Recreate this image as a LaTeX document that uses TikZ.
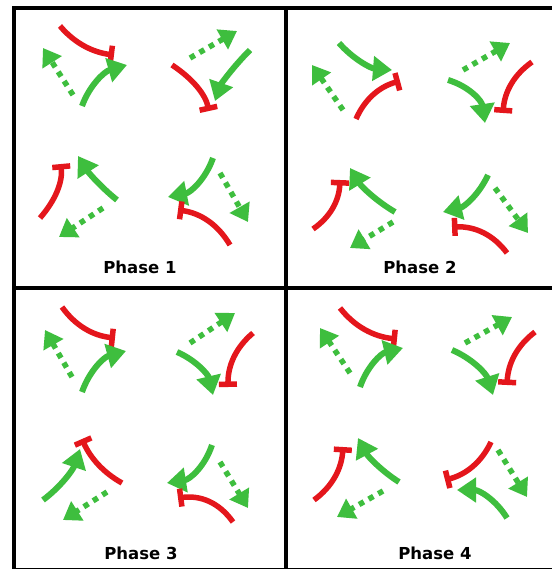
\documentclass[tikz,border=0pt]{standalone}
\usepackage{fontspec}
\newfontfamily\labelfont{DejaVu Sans}
\usetikzlibrary{arrows.meta,calc}
\definecolor{gr}{RGB}{62,190,62}
\definecolor{rd}{RGB}{228,22,28}
% #2 = start, #3 = point on the curve half way, #4 = end (quadratic arc)
\newcommand{\mycurve}[4]{\draw[#1] (#2) .. controls ($1.33333*(#3)-0.33333*(#4)$) and ($1.33333*(#3)-0.33333*(#2)$) .. (#4);}
\tikzset{
  frame/.style={line width=4pt, black},
  gsolid/.style={color=gr, line width=6pt, -{Triangle[length=19pt,width=24pt]}},
  gdot/.style={color=gr, line width=5.5pt, dash pattern=on 5.5pt off 5.5pt, -{Triangle[length=17pt,width=22pt]}},
  rinh/.style={color=rd, line width=5.5pt, -{Bar[width=18pt]}},
  lbl/.style={font=\labelfont\bfseries\fontsize{16.5}{16.5}\selectfont, inner sep=0pt}
}
\begin{document}
\begin{tikzpicture}[x=1pt,y=-1pt]
\fill[white] (0,0) rectangle (551,569);
\useasboundingbox (0,0) rectangle (551,569);
% ---------- Phase 1 ----------
\mycurve{rinh}{60,26}{84,45.7}{114,55}
\mycurve{gsolid}{82,106}{99,80}{127,65}
\draw[gdot] (73,95) -- (43,48);
\draw[gdot] (190,58) -- (237,31);
\mycurve{gsolid}{250,50}{228,76}{215,101}
\mycurve{rinh}{172,65}{197,87}{209,111}
\mycurve{rinh}{40,218}{57,191}{61,164}
\mycurve{gsolid}{117,200}{96,180}{78,156}
\draw[gdot] (103,208) -- (59,237);
\mycurve{gsolid}{213,158}{196,184}{168,197}
\draw[gdot] (220,173) -- (248,222);
\mycurve{rinh}{230,245}{208,221}{178,210}
% ---------- Phase 2 ----------
\mycurve{gsolid}{339,43}{363,62}{392,70}
\mycurve{rinh}{356,119}{373.5,94.7}{400,81}
\draw[gdot] (343,110) -- (312,65);
\draw[gdot] (463,70) -- (510,43);
\mycurve{rinh}{532,62}{511.4,84.1}{503,113}
\mycurve{gsolid}{448,80}{473.3,95.6}{485,123}
\mycurve{rinh}{313,229}{332.6,207.9}{340,180}
\mycurve{gsolid}{395,212}{369.7,192.8}{350,168}
\draw[gdot] (393,222) -- (350,248);
\mycurve{gsolid}{488,175}{470,199}{443,212}
\draw[gdot] (495,188) -- (528,233);
\mycurve{rinh}{507,253}{483,232.8}{452,227}
% ---------- Phase 3 ----------
\mycurve{rinh}{62,307}{85,328.5}{115,338}
\mycurve{gsolid}{82,392}{98.6,365.7}{126,351}
\draw[gdot] (72,377) -- (45,330);
\draw[gdot] (190,343) -- (235,313);
\mycurve{rinh}{253,333}{234.1,357.1}{228,387}
\mycurve{gsolid}{177,352}{200.4,369}{213,395}
\mycurve{gsolid}{43,500}{65.5,477.4}{80,449}
\mycurve{rinh}{122,483}{98.3,464.4}{82,439}
\draw[gdot] (107,492) -- (63,520);
\mycurve{gsolid}{212,445}{195.3,470.8}{167,483}
\draw[gdot] (220,462) -- (248,508);
\mycurve{rinh}{233,522}{209.1,501.7}{178,498}
% ---------- Phase 4 ----------
\mycurve{rinh}{340,308}{365,329.5}{397,339}
\mycurve{gsolid}{360,387}{376.1,361.6}{403,348}
\draw[gdot] (350,373) -- (320,328);
\draw[gdot] (465,343) -- (512,317);
\mycurve{rinh}{535,332}{514.8,355.2}{507,385}
\mycurve{gsolid}{452,350}{477.7,367.8}{493,395}
\mycurve{rinh}{314,500}{334.7,476.9}{343,447}
\mycurve{gsolid}{399,482}{375.6,462.7}{358,438}
\draw[gdot] (383,491) -- (337,517);
\mycurve{rinh}{491,442}{472.5,466.4}{445,480}
\draw[gdot] (498,450) -- (527,497);
\mycurve{gsolid}{507,518}{485.9,497}{457,490}
% ---------- labels ----------
\node[lbl] (p1) at (140,267) {Phase 1};
\node[lbl] (p2) at (420,267) {Phase 2};
\node[lbl] (p3) at (141,553) {Phase 3};
\node[lbl] (p4) at (435,553) {Phase 4};
% ---------- frame ----------
\draw[frame] (14,571) -- (14,8) -- (553,8);
\draw[frame] (286,8) -- (286,571);
\draw[frame] (12,288) -- (553,288);
\draw[frame] (12,569.5) -- (553,569.5);
\end{tikzpicture}
\end{document}
